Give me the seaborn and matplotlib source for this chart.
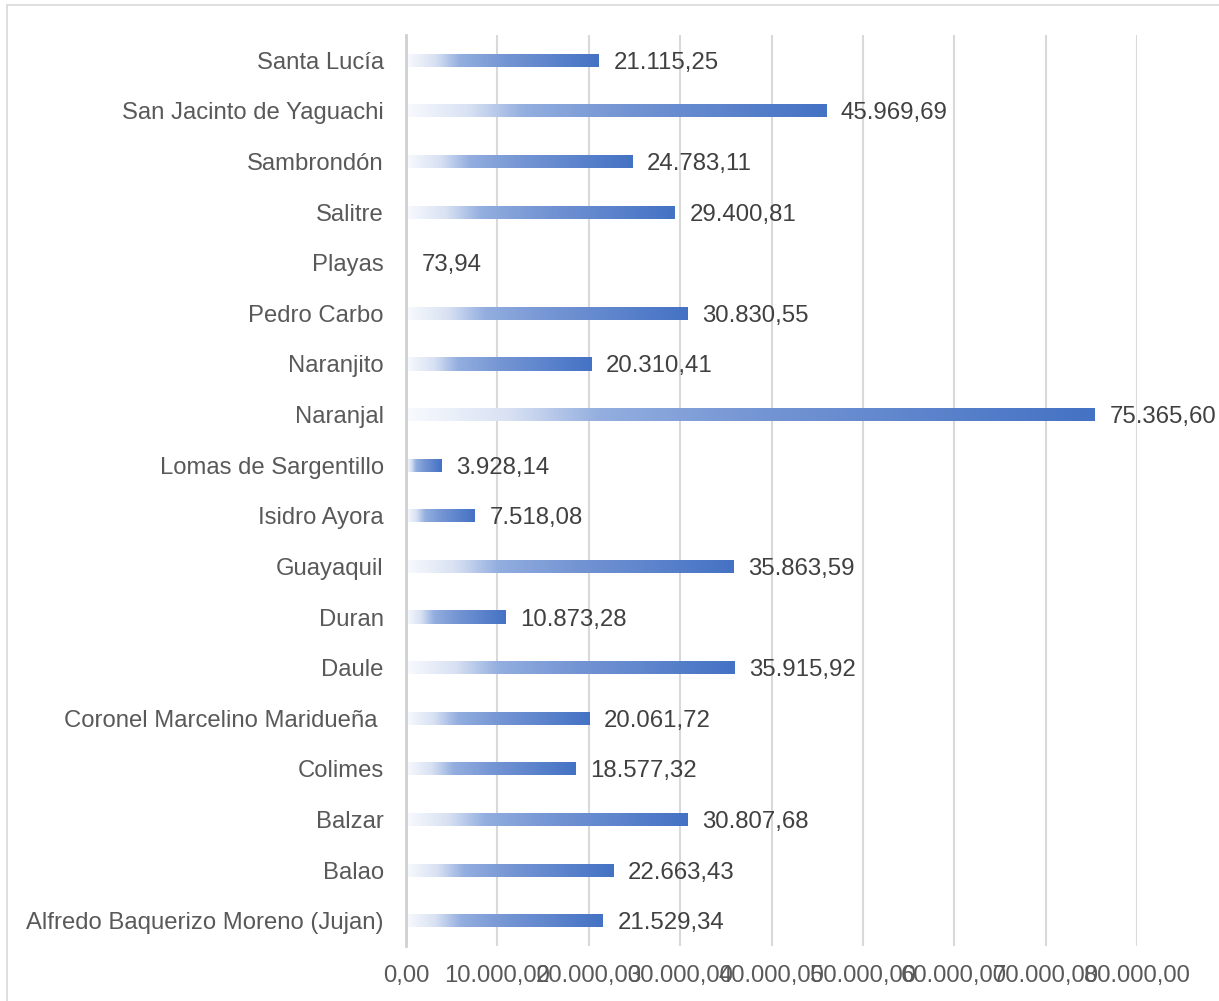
import matplotlib
matplotlib.use("Agg")
import matplotlib.pyplot as plt
import seaborn as sns
import numpy as np
import pandas as pd
from matplotlib.colors import LinearSegmentedColormap
from matplotlib.lines import Line2D

cantones = [
    "Santa Lucía", "San Jacinto de Yaguachi", "Sambrondón", "Salitre", "Playas",
    "Pedro Carbo", "Naranjito", "Naranjal", "Lomas de Sargentillo", "Isidro Ayora",
    "Guayaquil", "Duran", "Daule", "Coronel Marcelino Maridueña ", "Colimes",
    "Balzar", "Balao", "Alfredo Baquerizo Moreno (Jujan)",
]
valores = [
    21115.25, 45969.69, 24783.11, 29400.81, 73.94,
    30830.55, 20310.41, 75365.60, 3928.14, 7518.08,
    35863.59, 10873.28, 35915.92, 20061.72, 18577.32,
    30807.68, 22663.43, 21529.34,
]
x_ticks = [0, 10000, 20000, 30000, 40000, 50000, 60000, 70000, 80000]


def fmt(v):
    s = f"{v:,.2f}"
    return s.replace(",", "X").replace(".", ",").replace("X", ".")


df = pd.DataFrame({"canton": cantones, "valor": valores})

sns.set_style("white")
plt.rcParams["font.family"] = ["Liberation Sans", "DejaVu Sans"]

fig = plt.figure(figsize=(12.19, 10.01), dpi=100)
ax = fig.add_axes([406 / 1219, 55 / 1001, 731 / 1219, 911 / 1001])

sns.barplot(data=df, x="valor", y="canton", orient="h", width=0.26,
            color="#4472C4", ax=ax, zorder=3)

cmap = LinearSegmentedColormap.from_list(
    "grad",
    [(0.0, "#F8FAFD"), (0.15, "#D8E1F3"), (0.28, "#93AEDF"),
     (0.5, "#7696D4"), (1.0, "#4472C4")])
grad = np.linspace(0, 1, 256).reshape(1, -1)

for p in ax.patches:
    x0, y0 = p.get_x(), p.get_y()
    w, h = p.get_width(), p.get_height()
    if w <= 0:
        continue
    im = ax.imshow(grad, cmap=cmap, aspect="auto",
                   extent=(x0, x0 + w, y0 + h, y0), zorder=3,
                   interpolation="bilinear")
    im.set_clip_path(p)
    p.set_facecolor("none")
    p.set_edgecolor("none")

for i, v in enumerate(valores):
    ax.text(v + 1600, i, fmt(v), va="center_baseline", ha="left",
            fontsize=17.3, color="#404040", zorder=4)

ax.set_xlim(0, 80000)
ax.set_ylim(len(cantones) - 0.5, -0.5)
ax.set_xticks(x_ticks)
ax.set_xticklabels([fmt(t) for t in x_ticks], fontsize=17.2, color="#595959")
ax.tick_params(axis="y", labelsize=17.2, labelcolor="#595959", length=0, pad=16)
ax.tick_params(axis="x", length=0, pad=14)
ax.set_xlabel("")
ax.set_ylabel("")
ax.grid(axis="x", color="#D9D9D9", linewidth=1.5, zorder=0)
ax.set_axisbelow(True)
for s in ["top", "right", "bottom"]:
    ax.spines[s].set_visible(False)
ax.spines["left"].set_color("#D0D0D0")
ax.spines["left"].set_linewidth(2)
ax.spines["left"].set_zorder(5)

# figure border (top and left)
fig.add_artist(Line2D([7 / 1219, 1.0], [1 - 5 / 1001, 1 - 5 / 1001],
                      transform=fig.transFigure, color="#D9D9D9", linewidth=1.2))
fig.add_artist(Line2D([7 / 1219, 7 / 1219], [0.0, 1 - 5 / 1001],
                      transform=fig.transFigure, color="#D9D9D9", linewidth=1.2))

fig.savefig("out.png", dpi=100)
